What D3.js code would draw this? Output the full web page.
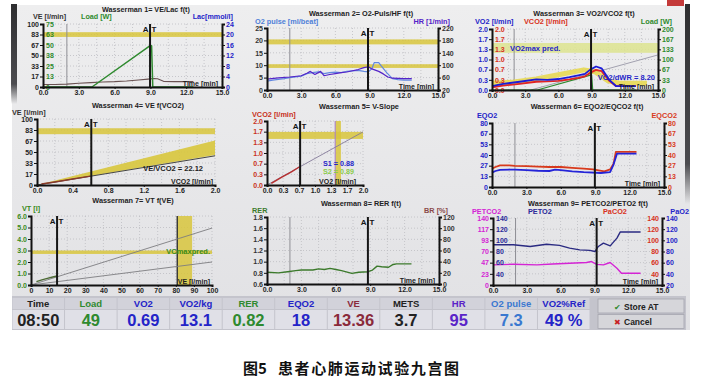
<!DOCTYPE html>
<html>
<head>
<meta charset="utf-8">
<script src="https://cdn.jsdelivr.net/npm/d3@7"></script>
<style>
  body { margin: 0; background: #ffffff; }
  svg { display: block; font-family: "Liberation Sans", Arial, sans-serif; }
</style>
</head>
<body>
<div id="chart"></div>
<script>
// ---------- values ----------
var timeTicks = [0, 3, 6, 9, 12, 15];
var timeLabels = ["0.0", "3.0", "6.0", "9.0", "12.0", "15.0"];
var startTime = 2.0;   // grey marker, start of loading

// panel 1: VE / Load / Lac f(t)
var p1VeLabels = ["0", "17", "33", "50", "67", "83", "100"];
var p1LoadLabels = ["0", "13", "25", "38", "50", "63", "75"];
var p1LacLabels = ["0", "4", "8", "12", "16", "20", "24"];
var p1Band = [79.5, 87];
var p1At = 8.97;
var p1Ve = [[0, 4], [1, 4], [2, 4.5], [3, 6], [4, 7], [5, 8], [6, 8.5], [7, 9.5], [8, 11], [8.8, 12.5],
            [9.3, 13.5], [9.6, 13], [10.1, 9], [11, 8.5], [12.6, 8.5]];
var p1Load = [[0, 0], [4.1, 0], [8.95, 49], [9.1, 49], [9.2, 0], [12.6, 0]];

// panel 2: O2 pulse / HR f(t)
var p2PulseLabels = ["0", "5", "10", "15", "20", "25"];
var p2HrLabels = ["20", "60", "100", "140", "180", "220"];
var p2Bands = [[18.4, 20.4], [8.9, 10.4]];
var p2At = 8.86;
var p2Pulse = [[0, 3.6], [0.5, 4], [1, 4.3], [1.5, 4.6], [2, 5], [2.5, 5.3], [3, 5.6], [3.5, 6.6], [4, 7], [4.5, 7.3],
               [5, 6.6], [5.5, 7], [6, 7.2], [6.5, 7], [7, 7.5], [7.5, 7.7], [8, 7.9], [8.5, 7.5], [8.9, 7.3],
               [9.2, 8.6], [9.4, 11], [9.8, 11], [10, 9.8], [10.5, 7], [11, 4.6], [11.5, 4.2], [12, 4], [12.7, 4]];
var p2Hr = [[0, 55], [1, 59], [2, 62], [3, 66], [3.5, 74], [3.8, 80], [4.2, 70], [4.7, 80], [5, 66], [5.5, 70],
            [6, 73], [6.5, 76], [7, 78], [7.5, 82], [8, 86], [8.5, 92], [8.9, 95], [9.2, 88], [9.5, 84],
            [9.8, 80], [10.2, 72], [10.6, 62], [11, 58], [12, 57], [12.7, 57]];

// panel 3: VO2 / VCO2 / Load f(t)
var p3VoLabels = ["0.0", "0.3", "0.7", "1.0", "1.3", "1.7", "2.0"];
var p3LoadLabels = ["0", "33", "67", "100", "133", "167", "200"];
var p3Band = [1.22, 1.54];
var p3At = 8.95;
var p3Vo2 = [[0, 0.13], [1, 0.2], [2.5, 0.27], [4, 0.35], [5, 0.33], [6, 0.36], [7, 0.42], [7.8, 0.48],
             [8.4, 0.53], [8.85, 0.66], [9.4, 0.77], [9.9, 0.71], [10.6, 0.33], [11.2, 0.13], [13, 0.13]];
var p3Vco2 = [[0, 0.09], [1, 0.14], [2.5, 0.2], [4, 0.27], [5, 0.28], [6, 0.3], [7, 0.35], [7.8, 0.4],
              [8.4, 0.45], [8.85, 0.56], [9.4, 0.66], [9.9, 0.62], [10.6, 0.3], [11.2, 0.13], [13, 0.13]];
var p3Pred = [[0, 0.22], [2, 0.26], [4, 0.36], [6, 0.5], [8.3, 0.66], [9.3, 0.6], [10.5, 0.3], [11.5, 0.22], [14, 0.22]];
var p3Load = [[0, 0], [4.1, 0], [8.9, 49], [9.0, 49], [9.1, 0], [13, 0]];
var p3Ref = [[3.5, 0], [15, 1.15]];

// panel 4: VE f(VCO2)
var p4XLabels = ["0.0", "0.4", "0.8", "1.2", "1.6", "2.0"];
var p4Band = [77, 86];
var p4At = 0.61;
var p4Wedge = [[0, 0, 0], [2.0, 45.5, 67.5]];
var p4Slope = [[0, 0], [2.0, 44.2]];
var p4Data = [[0.05, 1.5], [0.2, 4.5], [0.4, 9], [0.6, 13.4]];

// panel 5: V-slope
var p5Labels = ["0.0", "0.3", "0.7", "1.0", "1.3", "1.7", "2.0"];
var p5HBand = [1.44, 1.66];
var p5VBand = [1.42, 1.54];
var p5VLine = 1.42;
var p5At = 0.69;
var p5Diag = [[0, 0], [2.0, 1.66]];
var p5Data = [[0.09, 0.05], [0.3, 0.24], [0.5, 0.4], [0.68, 0.57]];

// panel 6: EQO2 / EQCO2 f(t)
var p6Labels = ["0", "13", "27", "40", "53", "67", "80"];
var p6At = 8.97;
var p6Eqco2 = [[0, 23], [0.3, 25], [0.7, 27], [1.5, 27], [2, 26.5], [3, 26], [4, 25.5], [5, 25], [6, 25],
               [7, 24], [8, 23], [8.8, 22], [9.8, 19.6], [10.3, 22], [10.6, 29], [10.8, 44], [12.6, 44]];
var p6Eqo2 = [[0, 18], [0.3, 20], [0.7, 21.5], [2, 21.7], [3, 21], [4, 20.3], [5, 20], [5.5, 21.7], [6, 21],
              [7, 19.5], [8, 18.5], [9.5, 17.5], [10.3, 18.5], [10.6, 28], [10.9, 41.7], [12.6, 41.7]];

// panel 7: VT f(VE)
var p7XLabels = ["0", "10", "20", "30", "40", "50", "60", "70", "80", "90", "100"];
var p7YLabels = ["0.0", "1.0", "2.0", "3.0", "4.0", "5.0", "6.0"];
var p7HBand = [2.7, 3.0];
var p7VBand = [80.8, 89];
var p7At = 14.4;
var p7RefHigh = [[0, 0], [100, 4.95]];
var p7RefLow = [[0, 0], [100, 2.0]];
var p7Data = [[3, 0.3], [6, 0.45], [9, 0.58], [12, 0.7], [14.4, 0.78]];

// panel 8: RER f(t)
var p8RerLabels = ["0.6", "0.8", "1.0", "1.2", "1.4", "1.6", "1.8"];
var p8BrLabels = ["0", "20", "40", "60", "80", "100", "120"];
var p8At = 8.8;
var p8Rer = [[0, 0.81], [1, 0.8], [1.8, 0.82], [2.5, 0.84], [3, 0.85], [4, 0.85], [4.5, 0.87], [5, 0.86],
             [5.5, 0.88], [6, 0.86], [6.5, 0.84], [7.4, 0.79], [8, 0.81], [8.8, 0.82], [9.2, 0.85],
             [9.6, 0.92], [10, 0.91], [10.6, 0.9], [11, 0.95], [11.3, 0.96], [12.6, 0.96]];

// panel 9: PETCO2 / PETO2 f(t)
var p9PetcoLabels = ["0", "23", "47", "70", "93", "117", "140"];
var p9PetoLabels = ["", "40", "60", "80", "100", "120", "140"];
var p9PaLabels = ["20", "40", "60", "80", "100", "120", "140"];
var p9At = 9.2;
var p9Peto2 = [[0, 92], [1.8, 92], [3.3, 89], [4.75, 93], [5.9, 91], [6.8, 86], [7.7, 83], [8.6, 82],
               [9.05, 80], [9.35, 89], [9.8, 95], [10.4, 90], [11, 104], [11.3, 115], [13.1, 115]];
var p9Petco2 = [[0, 42], [1.8, 43.4], [3.9, 42], [5.3, 44], [6.8, 45.5], [8.3, 47], [8.75, 49],
                [9.2, 43], [9.8, 42], [10.4, 47], [11, 35], [11.4, 24.5], [13.1, 24.5]];

// status bar
var statusHeads = ["Time", "Load", "VO2", "VO2/kg", "RER", "EQO2", "VE", "METS", "HR", "O2 pulse", "VO2%Ref"];
var statusValues = ["08:50", "49", "0.69", "13.1", "0.82", "18", "13.36", "3.7", "95", "7.3", "49 %"];

// ---------- drawing ----------
var svg = d3.select("#chart").append("svg").attr("width", 705).attr("height", 389);

var defs = svg.append("defs");
var grad = defs.append("linearGradient").attr("id", "screenGrad")
  .attr("x1", 0).attr("y1", 0).attr("x2", 0).attr("y2", 1);
grad.append("stop").attr("offset", "0%").attr("stop-color", "#eeeeef");
grad.append("stop").attr("offset", "100%").attr("stop-color", "#e1e1e4");
var edge = defs.append("linearGradient").attr("id", "edgeGrad")
  .attr("x1", 0).attr("y1", 0).attr("x2", 0).attr("y2", 1);
edge.append("stop").attr("offset", "0%").attr("stop-color", "#2e2e30").attr("stop-opacity", 1);
edge.append("stop").attr("offset", "80%").attr("stop-color", "#3a3a3e").attr("stop-opacity", 0.9);
edge.append("stop").attr("offset", "100%").attr("stop-color", "#3a3a3e").attr("stop-opacity", 0);

// screen and its frame
svg.append("rect").attr("x", 12).attr("y", 5).attr("width", 678).attr("height", 325).attr("fill", "url(#screenGrad)");
svg.append("rect").attr("x", 11).attr("y", 4).attr("width", 6).attr("height", 100).attr("fill", "url(#edgeGrad)");
svg.append("rect").attr("x", 685).attr("y", 4).attr("width", 5).attr("height", 200).attr("fill", "url(#edgeGrad)");
svg.append("rect").attr("x", 667).attr("y", 0).attr("width", 17).attr("height", 6).attr("fill", "#c43a3a");

function evenTicks(domain, n) {
  return d3.range(n).map(function(i) { return domain[0] + i * (domain[1] - domain[0]) / (n - 1); });
}

function styleAxis(ax, color, size) {
  ax.attr("font-family", null).attr("font-size", size).attr("font-weight", "bold");
  ax.select(".domain").attr("stroke", "#111").attr("stroke-width", 2);
  ax.selectAll(".tick line").attr("stroke", "#111").attr("stroke-width", 1);
  ax.selectAll(".tick text").attr("fill", color);
  return ax;
}

function makePanel(box, xDomain, yDomain, xDiv, yDiv) {
  var g = svg.append("g");
  var x = d3.scaleLinear().domain(xDomain).range([box.x0, box.x1]);
  var y = d3.scaleLinear().domain(yDomain).range([box.y1, box.y0]);
  // dotted grid
  var grid = g.append("g").attr("stroke", "#bdbdc2").attr("stroke-width", 0.8).attr("stroke-dasharray", "1,2");
  evenTicks(xDomain, xDiv + 1).slice(1).forEach(function(v) {
    grid.append("line").attr("x1", x(v)).attr("x2", x(v)).attr("y1", box.y0).attr("y2", box.y1);
  });
  evenTicks(yDomain, yDiv + 1).slice(1).forEach(function(v) {
    grid.append("line").attr("x1", box.x0).attr("x2", box.x1).attr("y1", y(v)).attr("y2", y(v));
  });
  return { g: g, x: x, y: y, box: box };
}

function addText(p, x, y, txt, color, size, anchor) {
  return p.g.append("text").attr("x", x).attr("y", y).attr("fill", color)
    .attr("font-size", size).attr("font-weight", "bold").attr("text-anchor", anchor || "start").text(txt);
}

function addYAxis(p, scale, xPos, labels, color, side) {
  var axis;
  if (side == "left") axis = d3.axisLeft(scale).tickSize(3).tickPadding(1);
  else if (side == "right") axis = d3.axisRight(scale).tickSize(3).tickPadding(1);
  else if (side == "innerL") axis = d3.axisRight(scale).tickSize(0).tickPadding(3);
  else axis = d3.axisLeft(scale).tickSize(0).tickPadding(3);
  axis.tickValues(evenTicks(scale.domain(), labels.length)).tickFormat(function(d, i) { return labels[i]; });
  var ax = p.g.append("g").attr("transform", "translate(" + xPos + ",0)").call(axis);
  styleAxis(ax, color, 7);
  if (side == "innerL" || side == "innerR") ax.select(".domain").remove();
  return ax;
}

function addXAxis(p, ticks, labels) {
  var axis = d3.axisBottom(p.x).tickValues(ticks).tickFormat(function(d, i) { return labels[i]; })
    .tickSize(2).tickPadding(1.5);
  var ax = p.g.append("g").attr("transform", "translate(0," + p.box.y1 + ")").call(axis);
  styleAxis(ax, "#1e1e1e", 7);
}

function addLine(p, data, yScale, color, width, opacity) {
  var line = d3.line().x(function(d) { return p.x(d[0]); }).y(function(d) { return yScale(d[1]); });
  p.g.append("path").datum(data).attr("d", line).attr("fill", "none").attr("stroke", color)
    .attr("stroke-width", width).attr("stroke-linejoin", "round").attr("opacity", opacity || 1);
}

function addHBand(p, yScale, range, color, opacity) {
  p.g.append("rect").attr("x", p.box.x0).attr("width", p.box.x1 - p.box.x0)
    .attr("y", yScale(range[1])).attr("height", yScale(range[0]) - yScale(range[1]))
    .attr("fill", color).attr("opacity", opacity || 0.85);
}

function addVBand(p, range, color) {
  p.g.append("rect").attr("x", p.x(range[0])).attr("width", p.x(range[1]) - p.x(range[0]))
    .attr("y", p.box.y0).attr("height", p.box.y1 - p.box.y0).attr("fill", color).attr("opacity", 0.85);
}

function addVLine(p, value, color, width) {
  p.g.append("line").attr("x1", p.x(value)).attr("x2", p.x(value)).attr("y1", p.box.y0).attr("y2", p.box.y1)
    .attr("stroke", color).attr("stroke-width", width);
}

function addAT(p, value) {
  addVLine(p, value, "#161616", 2);
  addText(p, p.x(value) - 1.5, p.box.y0 + 8, "A", "#161616", 8, "end");
  addText(p, p.x(value) + 1.5, p.box.y0 + 8, "T", "#161616", 8, "start");
}

function timeLabel(p) {
  addText(p, p.box.x1 - 4, p.box.y1 - 1.5, "Time [min]", "#1e1e1e", 7, "end");
}

var bandYellow = "#d8c63c";

// ===== Panel 1 =====
var p1 = makePanel({ x0: 43, x1: 222, y0: 24, y1: 87 }, [0, 15], [0, 100], 10, 6);
var p1Load_y = d3.scaleLinear().domain([0, 75]).range([87, 24]);
var p1Lac_y = d3.scaleLinear().domain([0, 24]).range([87, 24]);
addHBand(p1, p1.y, p1Band, bandYellow);
addVLine(p1, startTime, "#8e8e94", 1);
addLine(p1, p1Ve, p1.y, "#6a5252", 1.1);
addLine(p1, p1Load, p1Load_y, "#2f8a2f", 1.5);
addAT(p1, p1At);
addYAxis(p1, p1.y, 43, p1VeLabels, "#222", "left");
addYAxis(p1, p1Load_y, 43, p1LoadLabels, "#2f8a2f", "innerL");
addYAxis(p1, p1Lac_y, 222, p1LacLabels, "#2424c8", "right");
addXAxis(p1, timeTicks, timeLabels);
timeLabel(p1);
addText(p1, 146, 12, "Wasserman 1= VE/Lac f(t)", "#222", 7.2, "middle");
addText(p1, 33, 19, "VE [l/min]", "#333", 7.2);
addText(p1, 81, 19, "Load [W]", "#2f8a2f", 7.2);
addText(p1, 233, 19, "Lac[mmol/l]", "#2424c8", 7.2, "end");

// ===== Panel 2 =====
var p2 = makePanel({ x0: 267, x1: 438, y0: 28, y1: 90 }, [0, 15], [0, 25], 10, 5);
var p2Hr_y = d3.scaleLinear().domain([20, 220]).range([90, 28]);
p2Bands.forEach(function(b) { addHBand(p2, p2.y, b, bandYellow); });
addVLine(p2, startTime, "#8e8e94", 1);
addLine(p2, p2Pulse, p2.y, "#6288e0", 1.2);
addLine(p2, p2Hr, p2Hr_y, "#5424c8", 1.2);
addAT(p2, p2At);
addYAxis(p2, p2.y, 267, p2PulseLabels, "#333", "left");
addYAxis(p2, p2Hr_y, 438, p2HrLabels, "#333", "right");
addXAxis(p2, timeTicks, timeLabels);
timeLabel(p2);
addText(p2, 361, 15.5, "Wasserman 2= O2-Puls/HF f(t)", "#222", 7.3, "middle");
addText(p2, 255, 23.5, "O2 pulse [ml/beat]", "#4f7fd8", 7.3);
addText(p2, 450, 23.5, "HR [1/min]", "#5424c8", 7.3, "end");

// ===== Panel 3 =====
var p3 = makePanel({ x0: 492, x1: 658, y0: 29, y1: 90 }, [0, 15], [0, 2], 10, 6);
var p3Load_y = d3.scaleLinear().domain([0, 200]).range([90, 29]);
addHBand(p3, p3.y, p3Band, "#dde48e");
addVLine(p3, startTime, "#8e8e94", 1);
addLine(p3, p3Ref, p3.y, "#9a98a8", 0.9);
addLine(p3, p3Pred, p3.y, "#e8d84a", 5, 0.85);
addLine(p3, p3Load, p3Load_y, "#2f8a2f", 1.2);
addLine(p3, p3Vco2, p3.y, "#e02424", 1.8);
addLine(p3, p3Vo2, p3.y, "#1c1cd8", 1.8);
addAT(p3, p3At);
addYAxis(p3, p3.y, 492, p3VoLabels, "#2424c8", "left");
addYAxis(p3, p3.y, 492, p3VoLabels, "#d83020", "innerL");
addYAxis(p3, p3Load_y, 658, p3LoadLabels, "#2f8a2f", "right");
addXAxis(p3, timeTicks, timeLabels);
timeLabel(p3);
addText(p3, 510, 51, "VO2max pred.", "#2424c8", 7.5);
addText(p3, 655, 80, "VO2/dWR = 8.20", "#2424c8", 7.5, "end");
addText(p3, 584, 15.5, "Wasserman 3= VO2/VCO2 f(t)", "#222", 7.3, "middle");
addText(p3, 475, 24, "VO2 [l/min]", "#2424c8", 7.3);
addText(p3, 524, 24, "VCO2 [l/min]", "#d83020", 7.3);
addText(p3, 672, 24, "Load [W]", "#2f8a2f", 7.3, "end");

// ===== Panel 4 =====
var p4 = makePanel({ x0: 37, x1: 215, y0: 119, y1: 185 }, [0, 2], [0, 100], 10, 6);
addHBand(p4, p4.y, p4Band, bandYellow);
var wedge = d3.area().x(function(d) { return p4.x(d[0]); })
  .y0(function(d) { return p4.y(d[1]); }).y1(function(d) { return p4.y(d[2]); });
p4.g.append("path").datum(p4Wedge).attr("d", wedge).attr("fill", bandYellow).attr("opacity", 0.9);
addLine(p4, p4Slope, p4.y, "#333", 0.9);
addLine(p4, p4Data, p4.y, "#8a3a2a", 1.4);
addAT(p4, p4At);
addYAxis(p4, p4.y, 37, p1VeLabels, "#222", "left");
addXAxis(p4, [0, 0.4, 0.8, 1.2, 1.6, 2.0], p4XLabels);
addText(p4, 213, 183.5, "VCO2 [l/min]", "#1e1e1e", 7, "end");
addText(p4, 203, 171, "VE/VCO2 = 22.12", "#1e1e1e", 7.5, "end");
addText(p4, 138, 107.5, "Wasserman 4= VE f(VCO2)", "#222", 7.3, "middle");
addText(p4, 12, 114.5, "VE [l/min]", "#333", 7.3);

// ===== Panel 5 =====
var p5 = makePanel({ x0: 267, x1: 363, y0: 121, y1: 185 }, [0, 2], [0, 2], 6, 6);
addHBand(p5, p5.y, p5HBand, bandYellow);
addVBand(p5, p5VBand, bandYellow);
addVLine(p5, p5VLine, "#a47ad4", 1);
addLine(p5, p5Diag, p5.y, "#847a9a", 0.9);
addLine(p5, p5Data, p5.y, "#b83030", 1.4);
addAT(p5, p5At);
addYAxis(p5, p5.y, 267, p5Labels, "#c83020", "left");
addXAxis(p5, evenTicks([0, 2], 7), p5Labels);
addText(p5, 356, 183.5, "VO2 [l/min]", "#1e1e1e", 7, "end");
addText(p5, 323, 165.5, "S1 = 0.88", "#2424c8", 7.2);
addText(p5, 323, 173.5, "S2 = 0.89", "#8acc4a", 7.2);
addText(p5, 359, 109, "Wasserman 5= V-Slope", "#222", 7.3, "middle");
addText(p5, 252, 116.5, "VCO2 [l/min]", "#c83020", 7.3);

// ===== Panel 6 =====
var p6 = makePanel({ x0: 492, x1: 664, y0: 123, y1: 187 }, [0, 15], [0, 80], 10, 6);
addVLine(p6, startTime, "#8e8e94", 1);
addLine(p6, p6Eqco2, p6.y, "#d83a1c", 1.8);
addLine(p6, p6Eqo2, p6.y, "#2424d8", 1.8);
addAT(p6, p6At);
addYAxis(p6, p6.y, 492, p6Labels, "#2424c8", "left");
addYAxis(p6, p6.y, 664, p6Labels, "#d83a1c", "right");
addXAxis(p6, timeTicks, timeLabels);
timeLabel(p6);
addText(p6, 587, 109, "Wasserman 6= EQO2/EQCO2 f(t)", "#222", 7.3, "middle");
addText(p6, 477, 117.5, "EQO2", "#2424c8", 7.3);
addText(p6, 677, 117.5, "EQCO2", "#d83a1c", 7.3, "end");

// ===== Panel 7 =====
var p7 = makePanel({ x0: 31, x1: 212, y0: 216, y1: 285 }, [0, 100], [0, 6], 10, 6);
addHBand(p7, p7.y, p7HBand, bandYellow);
addVBand(p7, p7VBand, bandYellow);
addVLine(p7, p7VBand[0], "#333", 1.4);
addLine(p7, p7RefHigh, p7.y, "#7d7d80", 0.9);
addLine(p7, p7RefLow, p7.y, "#7d7d80", 0.9);
addLine(p7, p7Data, p7.y, "#4c6a34", 1.4);
addAT(p7, p7At);
addYAxis(p7, p7.y, 31, p7YLabels, "#3a8a1a", "left");
addXAxis(p7, evenTicks([0, 100], 11), p7XLabels);
addText(p7, 210, 283.5, "VE [l/min]", "#1e1e1e", 7, "end");
addText(p7, 210, 253.5, "VCmaxpred.", "#3a8a1a", 7.5, "end");
addText(p7, 133, 203, "Wasserman 7= VT f(VE)", "#222", 7.3, "middle");
addText(p7, 22, 210.5, "VT [l]", "#3a8a1a", 7.3);

// ===== Panel 8 =====
var p8 = makePanel({ x0: 267, x1: 439, y0: 217, y1: 284 }, [0, 15], [0.6, 1.8], 10, 6);
var p8Br_y = d3.scaleLinear().domain([0, 120]).range([284, 217]);
addVLine(p8, startTime, "#8e8e94", 1);
addLine(p8, p8Rer, p8.y, "#3c7a2c", 1.4);
addAT(p8, p8At);
addYAxis(p8, p8.y, 267, p8RerLabels, "#333", "left");
addYAxis(p8, p8Br_y, 439, p8BrLabels, "#333", "right");
addXAxis(p8, timeTicks, timeLabels);
timeLabel(p8);
addText(p8, 361, 205.5, "Wasserman 8= RER f(t)", "#222", 7.3, "middle");
addText(p8, 252, 212.5, "RER", "#3c7a2c", 7.3);
addText(p8, 448, 212.5, "BR [%]", "#8a4a4a", 7.3, "end");

// ===== Panel 9 =====
var p9 = makePanel({ x0: 493, x1: 662, y0: 218, y1: 285 }, [0, 15], [0, 140], 10, 6);
var p9Po2_y = d3.scaleLinear().domain([20, 140]).range([285, 218]);
addVLine(p9, startTime, "#8e8e94", 1);
addLine(p9, p9Peto2, p9Po2_y, "#2a2a82", 1.4);
addLine(p9, p9Petco2, p9.y, "#d424d4", 1.4);
addAT(p9, p9At);
addYAxis(p9, p9.y, 493, p9PetcoLabels, "#d424d4", "left");
addYAxis(p9, p9Po2_y, 493, p9PetoLabels, "#2a2a9a", "innerL");
addYAxis(p9, p9Po2_y, 662, p9PetoLabels, "#d83020", "innerR");
addYAxis(p9, p9Po2_y, 662, p9PaLabels, "#2424c8", "right");
addXAxis(p9, timeTicks, timeLabels);
timeLabel(p9);
addText(p9, 588, 206, "Wasserman 9= PETCO2/PETO2 f(t)", "#222", 7.3, "middle");
addText(p9, 472, 213.5, "PETCO2", "#d424d4", 7.3);
addText(p9, 528, 213.5, "PETO2", "#2a2a9a", 7.3);
addText(p9, 603, 213.5, "PaCO2", "#d83020", 7.3);
addText(p9, 689, 213.5, "PaO2", "#2424c8", 7.3, "end");

// ===== status bar =====
var headColors = ["#222", "#2f8a2f", "#2424c8", "#2424c8", "#2f8a2f", "#2424c8", "#8a2a3a",
                  "#222", "#5a24c8", "#3a78d0", "#2424c8"];
var bar = svg.append("g");
bar.append("rect").attr("x", 12).attr("y", 296).attr("width", 674).attr("height", 34).attr("fill", "#c4c4cc");
var col = d3.scaleBand().domain(statusHeads).range([12, 590]).paddingInner(0);
statusHeads.forEach(function(h, i) {
  var cx = col(h);
  bar.append("rect").attr("x", cx + 0.5).attr("y", 298).attr("width", col.bandwidth() - 1).attr("height", 11)
    .attr("fill", "#d2d2da");
  bar.append("rect").attr("x", cx + 0.5).attr("y", 310).attr("width", col.bandwidth() - 1).attr("height", 19)
    .attr("fill", "#e0e0e7");
  bar.append("text").attr("x", cx + col.bandwidth() / 2).attr("y", 307).attr("text-anchor", "middle")
    .attr("font-size", 9.5).attr("font-weight", "bold").attr("fill", headColors[i]).text(h);
  bar.append("text").attr("x", cx + col.bandwidth() / 2).attr("y", 326).attr("text-anchor", "middle")
    .attr("font-size", 16.5).attr("font-weight", "bold").attr("fill", headColors[i]).text(statusValues[i]);
});
// buttons
[["Store AT", 299, "\u2714", "#2f8a2f"], ["Cancel", 314.5, "\u2716", "#c82020"]].forEach(function(b) {
  bar.append("rect").attr("x", 598).attr("y", b[1]).attr("width", 86).attr("height", 14)
    .attr("fill", "#d6d6da").attr("stroke", "#a6a6ae").attr("stroke-width", 0.8);
  bar.append("text").attr("x", 614).attr("y", b[1] + 10.5).attr("font-size", 8).attr("fill", b[3]).text(b[2]);
  bar.append("text").attr("x", 624).attr("y", b[1] + 10.5).attr("font-size", 8.5).attr("font-weight", "bold")
    .attr("fill", "#222").text(b[0]);
});

// ===== caption =====
svg.append("text").attr("x", 243).attr("y", 374).attr("font-family", "'Noto Sans CJK SC', sans-serif")
  .attr("font-size", 15).attr("font-weight", "bold").attr("fill", "#111").text("图5");
svg.append("text").attr("x", 278).attr("y", 374).attr("font-family", "'Noto Sans CJK SC', sans-serif")
  .attr("font-size", 15).attr("font-weight", "bold").attr("letter-spacing", 1.6).attr("fill", "#111")
  .text("患者心肺运动试验九宫图");
</script>
</body>
</html>
